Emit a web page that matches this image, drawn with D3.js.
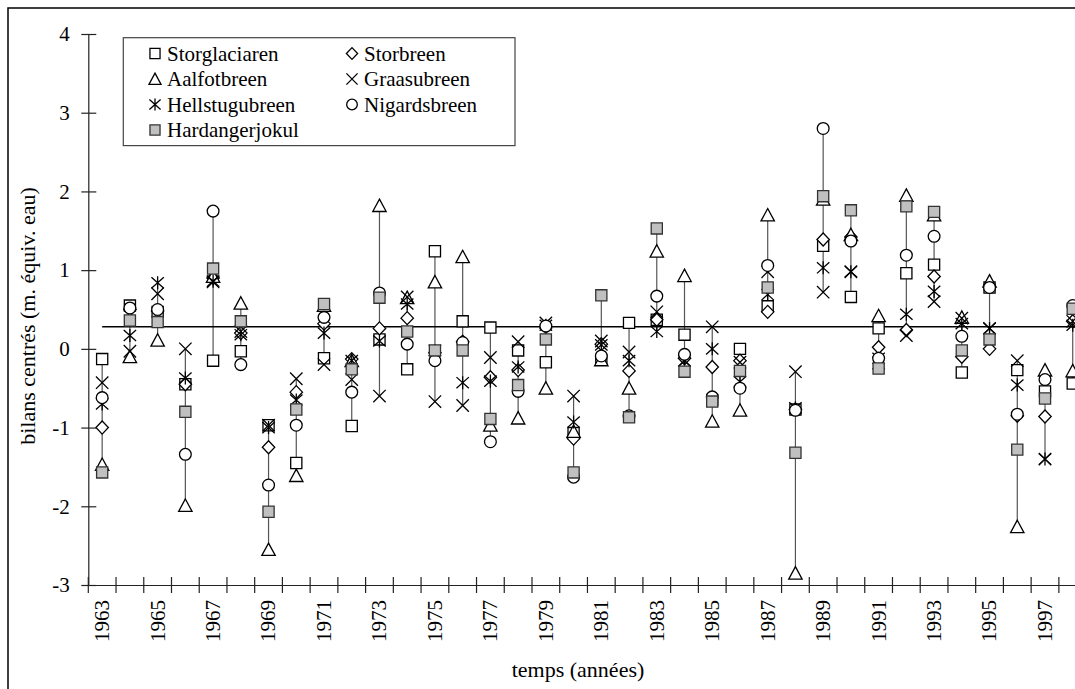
<!DOCTYPE html>
<html><head><meta charset="utf-8">
<script src="https://cdn.jsdelivr.net/npm/d3@7"></script>
<style>
body{margin:0;background:#fff}
svg{display:block}
text{font-family:"Liberation Serif","Times New Roman",serif;fill:#000}
</style>
</head><body>
<svg id="c" width="1075" height="689"></svg>
<script>
// ---------- data ----------
const years = [1963,1964,1965,1966,1967,1968,1969,1970,1971,1972,1973,1974,1975,1976,1977,1978,1979,1980,
               1981,1982,1983,1984,1985,1986,1987,1988,1989,1990,1991,1992,1993,1994,1995,1996,1997,1998];
const yearLabels = [1963,1965,1967,1969,1971,1973,1975,1977,1979,1981,1983,1985,1987,1989,1991,1993,1995,1997];
const yTicks = [-3,-2,-1,0,1,2,3,4];
const refLevel = 0.28;

const storglaciaren = [-0.13,0.55,0.47,-0.45,-0.15,-0.03,-0.97,-1.45,-0.12,-0.98,0.12,-0.26,1.24,0.35,0.27,-0.02,-0.17,-1.07,
                       -0.14,0.33,0.37,0.18,-0.65,0.0,0.54,-0.77,1.31,0.66,0.26,0.96,1.07,-0.30,0.78,-0.27,-0.54,-0.44];
const storbreen     = [-1.0,0.50,0.48,-0.45,0.90,0.20,-1.25,-0.55,0.32,-0.13,0.26,0.39,-0.05,0.09,-0.36,-0.27,0.28,-1.14,
                       0.06,-0.28,0.37,-0.12,-0.23,-0.15,0.47,-0.77,1.39,1.42,0.02,0.24,0.92,-0.10,0.0,-0.85,-0.86,0.35];
const aalfotbreen   = [-1.47,-0.10,0.11,-1.99,0.92,0.58,-2.55,-1.61,0.55,-0.15,1.82,0.65,0.85,1.17,-0.97,-0.88,-0.50,-1.05,
                       -0.14,-0.50,1.24,0.93,-0.92,-0.78,1.70,-2.85,1.90,1.45,0.42,1.95,1.70,0.40,0.86,-2.26,-0.27,-0.28];
const graasubreen   = [-0.43,-0.03,0.70,0.0,0.85,0.22,-0.97,-0.38,-0.20,-0.39,-0.60,0.66,-0.67,-0.72,-0.11,0.09,0.33,-0.60,
                       0.10,-0.04,0.47,-0.15,0.28,-0.17,0.98,-0.29,0.72,0.98,-0.18,0.17,0.60,0.39,0.26,-0.15,-1.40,0.35];
const hellstugubreen= [-0.70,0.17,0.84,-0.37,0.86,0.18,-1.0,-0.65,0.20,-0.15,0.10,0.57,-0.02,-0.43,-0.41,-0.23,0.30,-0.93,
                       0.05,-0.15,0.22,-0.15,0.0,-0.42,0.69,-0.75,1.03,0.98,-0.12,0.44,0.73,0.32,0.26,-0.46,-1.40,0.30];
const nigardsbreen  = [-0.62,0.52,0.50,-1.34,1.75,-0.20,-1.73,-0.97,0.40,-0.55,0.71,0.06,-0.15,0.08,-1.18,-0.54,0.29,-1.63,
                       -0.09,-0.85,0.67,-0.07,-0.61,-0.50,1.06,-0.78,2.80,1.37,-0.12,1.19,1.43,0.16,0.78,-0.83,-0.39,0.55];
const hardangerjokul= [-1.57,0.36,0.34,-0.80,1.02,0.35,-2.07,-0.77,0.57,-0.26,0.65,0.22,-0.02,-0.02,-0.89,-0.46,0.12,-1.57,
                       0.68,-0.87,1.53,-0.29,-0.67,-0.28,0.78,-1.32,1.94,1.76,-0.25,1.81,1.74,-0.02,0.12,-1.28,-0.63,0.51];

const seriesNames = ["Storglaciaren","Storbreen","Aalfotbreen","Graasubreen","Hellstugubreen","Nigardsbreen","Hardangerjokul"];
const seriesValues = [storglaciaren,storbreen,aalfotbreen,graasubreen,hellstugubreen,nigardsbreen,hardangerjokul];
const seriesShapes = ["square","diamond","triangle","cross","asterisk","circle","square"];
const seriesFills = ["#fff","#fff","#fff","none","none","#fff","#c0c0c0"];

// ---------- drawing ----------
const svg = d3.select("#c");
const x = d3.scaleBand().domain(years).range([88.3, 1086.6]).padding(0);
const y = d3.scaleLinear().domain([-3, 4]).range([585, 34]);
const cx = d => x(d) + x.bandwidth() / 2;

const shapePath = {
  square: s => { const h = s * 0.9; return `M${-h},${-h}H${h}V${h}H${-h}Z`; },
  diamond: s => `M0,${-s*1.05}L${s},0L0,${s*1.05}L${-s},0Z`,
  triangle: s => `M0,${-s*1.05}L${s*1.08},${s*0.95}L${-s*1.08},${s*0.95}Z`,
  cross: s => `M${-s},${-s}L${s},${s}M${-s},${s}L${s},${-s}`,
  asterisk: s => `M${-s},${-s*0.9}L${s},${s*0.9}M${-s},${s*0.9}L${s},${-s*0.9}M0,${-s*1.05}L0,${s*1.05}`,
  circle: s => { const r = s * 0.95; return `M${r},0A${r},${r} 0 1,1 ${-r},0A${r},${r} 0 1,1 ${r},0Z`; }
};
const MS = 6.2;

// outer frame
svg.append("rect").attr("x", 8).attr("y", 8).attr("width", 1200).attr("height", 800)
  .attr("fill", "none").attr("stroke", "#000").attr("stroke-width", 1.5);

// y axis
const yAxis = svg.append("g").attr("transform", "translate(88.3,0)")
  .call(d3.axisLeft(y).tickValues(yTicks).tickSize(7).tickSizeOuter(0).tickPadding(11.5).tickFormat(d => String(d)));
yAxis.select(".domain").attr("stroke", "#222").attr("stroke-width", 1.2);
yAxis.selectAll(".tick line").attr("x1", 8).attr("x2", -7).attr("stroke", "#222").attr("stroke-width", 1.2);
yAxis.selectAll(".tick text").style("font-size", "21px").style("font-family", "'Liberation Serif',serif").attr("fill", "#000");

// x axis (labels at band centres, ticks at band boundaries)
const xAxis = svg.append("g").attr("transform", "translate(0,585)")
  .call(d3.axisBottom(x).tickValues(yearLabels).tickSize(0).tickSizeOuter(0));
xAxis.select(".domain").attr("stroke", "#222").attr("stroke-width", 1.2);
xAxis.selectAll(".tick text")
  .style("font-size", "21px").style("font-family", "'Liberation Serif',serif").attr("fill", "#000")
  .attr("transform", "rotate(-90)").attr("text-anchor", "end")
  .attr("x", -15).attr("y", 0).attr("dy", "0.33em");
svg.append("g").selectAll("line").data(years.concat(["end"])).join("line")
  .attr("x1", d => d === "end" ? x.range()[1] : x(d))
  .attr("x2", d => d === "end" ? x.range()[1] : x(d))
  .attr("y1", 577).attr("y2", 593).attr("stroke", "#222").attr("stroke-width", 1.2);

// axis titles
svg.append("text").attr("x", 578).attr("y", 677).attr("text-anchor", "middle")
  .style("font-size", "22px").text("temps (années)");
svg.append("text").attr("transform", "translate(28,316) rotate(-90)").attr("text-anchor", "middle")
  .attr("dy", "0.33em").style("font-size", "22px").text("bilans centrés (m. équiv. eau)");

// high-low lines
const ranges = years.map((yr, i) => {
  const vals = seriesValues.map(s => s[i]);
  return { yr, lo: d3.min(vals), hi: d3.max(vals) };
});
svg.append("g").selectAll("line").data(ranges).join("line")
  .attr("x1", d => cx(d.yr)).attr("x2", d => cx(d.yr))
  .attr("y1", d => y(d.hi)).attr("y2", d => y(d.lo))
  .attr("stroke", "#555").attr("stroke-width", 1.2);

// reference line
svg.append("line").attr("x1", cx(years[0])).attr("x2", cx(years[years.length - 1]) + 4)
  .attr("y1", y(refLevel)).attr("y2", y(refLevel))
  .attr("stroke", "#000").attr("stroke-width", 1.6);

// markers
seriesValues.forEach((vals, si) => {
  svg.append("g").selectAll("path").data(vals.map((v, i) => ({ yr: years[i], v }))).join("path")
    .attr("transform", d => `translate(${cx(d.yr)},${y(d.v)})`)
    .attr("d", shapePath[seriesShapes[si]](MS))
    .attr("fill", seriesFills[si])
    .attr("stroke", si === 6 ? "#333" : "#000")
    .attr("stroke-width", 1.3);
});

// legend
const lg = svg.append("g");
lg.append("rect").attr("x", 123.3).attr("y", 37.7).attr("width", 391.7).attr("height", 107.9)
  .attr("fill", "#fff").attr("stroke", "#444").attr("stroke-width", 1.2);
const colX = [155, 352], rowY = [53.5, 79, 104.5, 130];
seriesNames.forEach((name, si) => {
  const col = si % 2, row = Math.floor(si / 2);
  const g = lg.append("g").attr("transform", `translate(${colX[col]},${rowY[row]})`);
  g.append("path").attr("d", shapePath[seriesShapes[si]](5.6))
    .attr("fill", seriesFills[si]).attr("stroke", si === 6 ? "#333" : "#000").attr("stroke-width", 1.3);
  g.append("text").attr("x", 12).attr("y", 7).style("font-size", "21px").text(name);
});
</script>
</body></html>
